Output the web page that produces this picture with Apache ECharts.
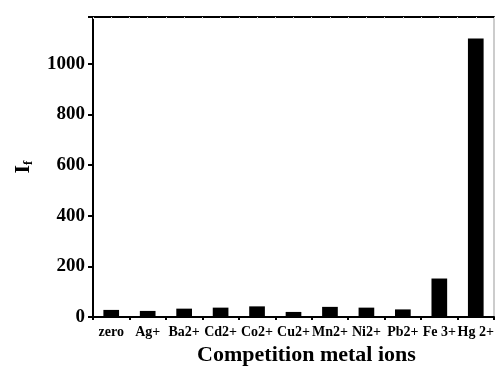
<!DOCTYPE html>
<html>
<head>
<meta charset="utf-8">
<script src="https://cdn.jsdelivr.net/npm/echarts@6/dist/echarts.min.js"></script>
<style>
  html, body { margin: 0; padding: 0; background: #fff; }
  #chart { width: 496px; height: 369px; }
</style>
</head>
<body>
<div id="chart"></div>
<script>
// Fluorescence intensity for each competing metal ion
const ions = ['zero', 'Ag+', 'Ba2+', 'Cd2+', 'Co2+', 'Cu2+', 'Mn2+', 'Ni2+', 'Pb2+', 'Fe 3+', 'Hg 2+'];
const intensity = [28, 24, 33, 37, 42, 20, 40, 37, 30, 152, 1100];
const yTicks = [0, 200, 400, 600, 800, 1000];

const FONT = 'Liberation Serif';
const chart = echarts.init(document.getElementById('chart'), null, { renderer: 'canvas' });

chart.setOption({
  animation: false,
  backgroundColor: '#fff',
  grid: {
    left: 93, right: 2, top: 17, bottom: 52,
    outerBoundsMode: 'none',
    show: true, borderColor: '#999', borderWidth: 1, backgroundColor: 'transparent'
  },
  xAxis: [
    {
      type: 'category',
      data: ions,
      position: 'bottom',
      axisLine: { lineStyle: { color: '#000', width: 2 } },
      axisTick: { alignWithLabel: true, length: 5, lineStyle: { color: '#000', width: 2 } },
      axisLabel: {
        interval: 0, margin: 8, color: '#000',
        fontFamily: FONT, fontWeight: 'bold', fontSize: 14
      },
      name: 'Competition metal ions',
      nameLocation: 'middle',
      nameGap: 27,
      nameTextStyle: {
        fontFamily: FONT, fontWeight: 'bold', fontSize: 22, color: '#000',
        padding: [0, 0, 0, 26]
      }
    },
    {
      // top frame edge
      type: 'value', position: 'top', min: 0, max: 22, interval: 1,
      axisLine: { show: true, lineStyle: { color: '#000', width: 2 } },
      axisTick: { show: true, inside: true, length: 2, lineStyle: { color: '#ddd' } },
      axisLabel: { show: false },
      splitLine: { show: false }
    },
    {
      // small ticks between categories
      type: 'value', position: 'bottom', min: 0, max: 11, interval: 1,
      axisLine: { show: false },
      axisTick: { show: true, length: 3, lineStyle: { color: '#000', width: 2 } },
      axisLabel: { show: false },
      splitLine: { show: false }
    }
  ],
  yAxis: {
    type: 'value',
    min: 0, max: 1185, interval: 200,
    axisLine: { show: true, lineStyle: { color: '#000', width: 2 } },
    axisTick: { show: true, length: 5, lineStyle: { color: '#000', width: 2 } },
    splitLine: { show: false },
    axisLabel: {
      margin: 8, color: '#000', fontFamily: FONT, fontWeight: 'bold', fontSize: 19,
      formatter: v => (yTicks.indexOf(v) >= 0 ? String(v) : '')
    },
    name: 'I{sub|f}',
    nameLocation: 'middle',
    nameGap: 58,
    nameRotate: 90,
    nameTextStyle: {
      fontFamily: FONT, fontWeight: 'bold', fontSize: 22, color: '#000',
      rich: {
        sub: { fontFamily: FONT, fontWeight: 'bold', fontSize: 13, color: '#000', verticalAlign: 'bottom', padding: [10, 0, 0, 0] }
      }
    }
  },
  series: [{
    type: 'bar',
    xAxisIndex: 0,
    data: intensity,
    barWidth: '43%',
    itemStyle: { color: '#000' }
  }]
});
</script>
</body>
</html>
